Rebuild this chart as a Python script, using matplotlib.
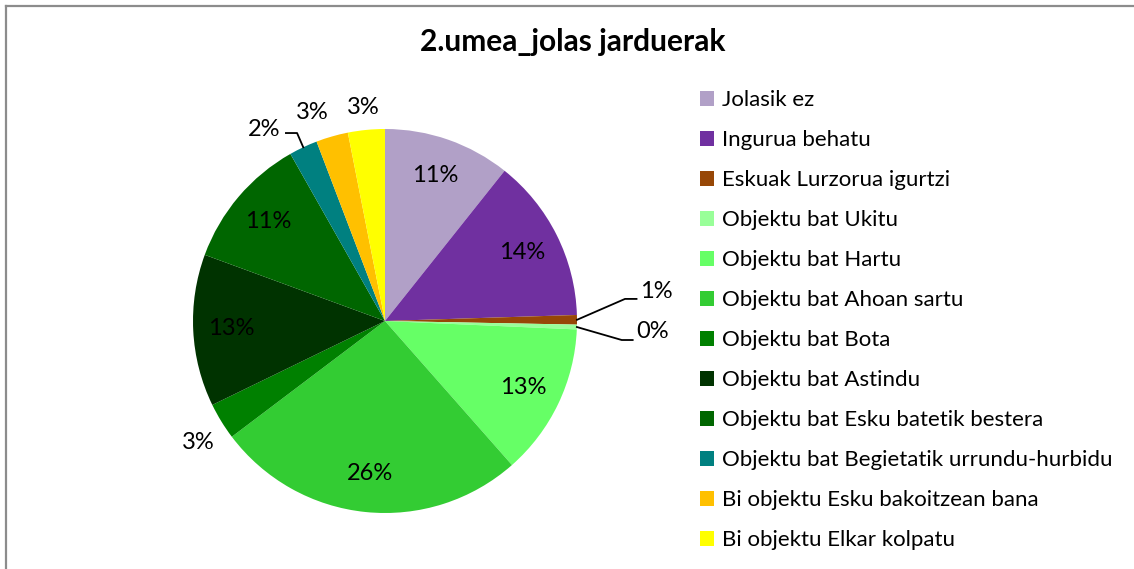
import matplotlib.pyplot as plt
import numpy as np
from matplotlib.lines import Line2D

plt.rcParams['font.family'] = ['Lato', 'DejaVu Sans']

title = "2.umea_jolas jarduerak"
categories = ["Jolasik ez", "Ingurua behatu", "Eskuak Lurzorua igurtzi",
              "Objektu bat Ukitu", "Objektu bat Hartu", "Objektu bat Ahoan sartu",
              "Objektu bat Bota", "Objektu bat Astindu",
              "Objektu bat Esku batetik bestera",
              "Objektu bat Begietatik urrundu-hurbidu",
              "Bi objektu Esku bakoitzean bana", "Bi objektu Elkar kolpatu"]
values = [10.7, 13.8, 0.8, 0.4, 12.8, 26.2, 3.1, 12.8, 11.2, 2.4, 2.7, 3.1]
colors = ["#B1A0C7", "#7030A0", "#974706", "#99FF99", "#66FF66", "#33CC33",
          "#008000", "#003300", "#006600", "#008080", "#FFC000", "#FFFF00"]

W, H = 1134, 569
fig = plt.figure(figsize=(W / 100, H / 100), dpi=100)

# pie centre (385, 321) px, radius 192 px
cx, cy, R = 385, 321, 192
ax = fig.add_axes([(cx - R) / W, (H - cy - R) / H, 2 * R / W, 2 * R / H])

wedges, texts, autotexts = ax.pie(
    values, colors=colors, startangle=90, counterclock=False, radius=1,
    autopct='%1.0f%%', pctdistance=0.8, wedgeprops=dict(linewidth=0),
    textprops=dict(fontsize=17, color='black'))
ax.set_xlim(-1, 1)
ax.set_ylim(-1, 1)
ax.set_aspect('equal')
ax.axis('off')
for t in autotexts:
    t.set_clip_on(False)

def mid_point(i, r=1.0):
    w = wedges[i]
    a = np.deg2rad((w.theta1 + w.theta2) / 2)
    return r * np.cos(a), r * np.sin(a)

# outside labels
autotexts[6].set_position((-0.975, -0.635))
autotexts[10].set_position((-0.38, 1.085))
autotexts[11].set_position((-0.115, 1.11))

# leader-line labels
def leader(i, elbow, end, text_xy, ha):
    x0, y0 = mid_point(i)
    ax.add_line(Line2D([x0, elbow[0], end[0]], [y0, elbow[1], end[1]],
                       color='black', lw=1.3, clip_on=False))
    autotexts[i].set_position(text_xy)
    autotexts[i].set_ha(ha)

leader(2, (1.25, 0.115), (1.31, 0.115), (1.33, 0.155), 'left')
leader(3, (1.233, -0.099), (1.29, -0.099), (1.31, -0.057), 'left')
leader(9, (-0.458, 0.979), (-0.516, 0.979), (-0.545, 1.0), 'right')

fig.text(573 / W, 1 - 42 / H, title, ha='center', va='center',
         fontsize=21.5, fontweight='bold')

fig.legend(wedges, categories, loc='upper left',
           bbox_to_anchor=(689 / W, 1 - 79 / H), frameon=False,
           fontsize=16, handlelength=0.63, handleheight=0.63,
           handletextpad=0.35, labelspacing=0.9, borderpad=0)

# chart border (left and top visible)
fig.add_artist(Line2D([6 / W, 6 / W], [0, 1 - 6 / H], color='#8c8c8c', lw=1.6,
                      transform=fig.transFigure))
fig.add_artist(Line2D([6 / W, 1], [1 - 6 / H, 1 - 6 / H], color='#8c8c8c', lw=1.6,
                      transform=fig.transFigure))

fig.savefig('out.png', dpi=100)
